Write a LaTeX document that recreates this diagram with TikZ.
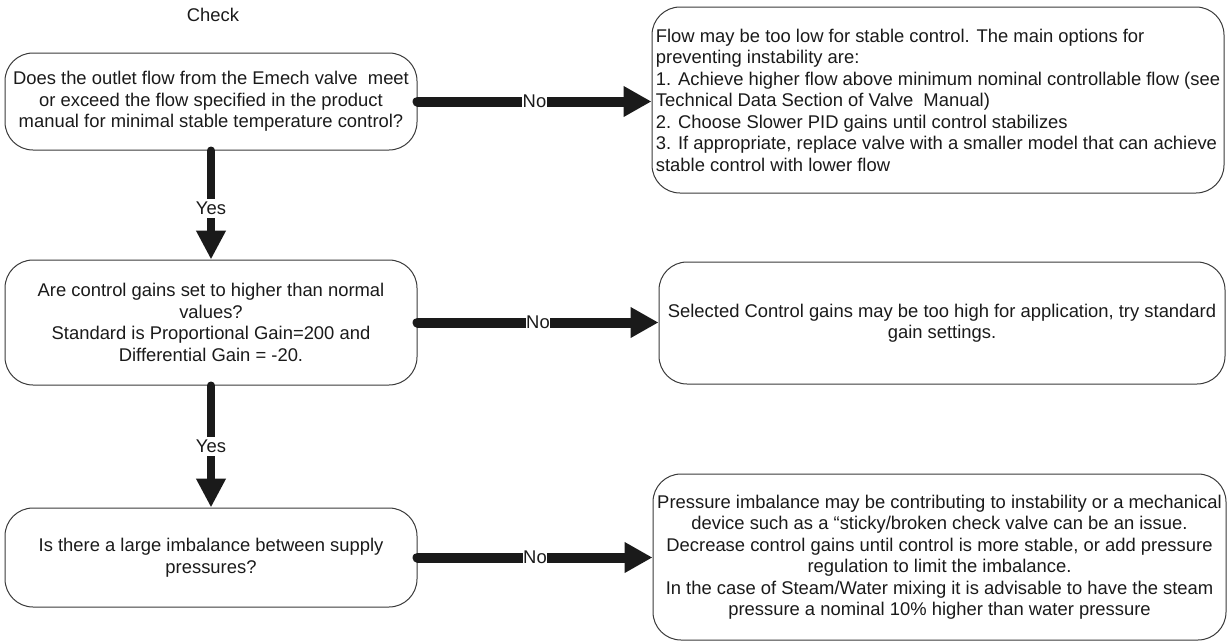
\documentclass[tikz,border=0pt]{standalone}
\usepackage{fontspec}
\setmainfont{Liberation Sans}
\usetikzlibrary{arrows.meta}
\definecolor{boxgray}{HTML}{3A3A3A}
\definecolor{arr}{HTML}{1A1A1A}
\definecolor{txt}{HTML}{1A1A1A}
\newcommand{\diagfont}{\fontsize{18.4}{21.5}\selectfont}
\tikzset{
  box/.style={draw=boxgray, line width=1pt, rounded corners=28pt, inner sep=0pt,
    align=center, font=\diagfont, text=txt},
  harrow/.style={draw=arr, line width=10pt, line cap=round,
    -{Triangle[length=28pt,width=29pt]}},
  varrow/.style={draw=arr, line width=8pt, line cap=round,
    -{Triangle[length=29pt,width=28pt]}},
  lbl/.style={fill=white, inner xsep=0.5pt, inner ysep=3pt,
    font=\diagfont, text=txt},
}
\begin{document}
\begin{tikzpicture}[x=1pt, y=-1pt]
\useasboundingbox (0,0) rectangle (1231,643);

\node[font=\diagfont, text=txt] (chk) at (213,15) {Check};

\node[box, minimum width=412pt, minimum height=97pt] (b1) at (211,101.5)
  {Does the outlet flow from the Emech valve\ \ meet\\
   or exceed the flow specified in the product\\
   manual for minimal stable temperature control?};

\node[box, align=left, minimum width=572pt, minimum height=186pt] (b2) at (938,100)
  {Flow may be too low for stable control. The main options for\\
   preventing instability are:\\
   1. Achieve higher flow above minimum nominal controllable flow (see\\
   Technical Data Section of Valve\ \ Manual)\\
   2. Choose Slower PID gains until control stabilizes\\
   3. If appropriate, replace valve with a smaller model that can achieve\\
   stable control with lower flow};

\node[box, minimum width=412pt, minimum height=125pt] (b3) at (211,322.5)
  {Are control gains set to higher than normal\\
   values?\\
   Standard is Proportional Gain=200 and\\
   Differential Gain = -20.};

\node[box, minimum width=566pt, minimum height=122pt] (b4) at (942,323)
  {Selected Control gains may be too high for application, try standard\\
   gain settings.};

\node[box, minimum width=412pt, minimum height=99pt] (b5) at (211,557.5)
  {Is there a large imbalance between supply\\
   pressures?};

\node[box, minimum width=573pt, minimum height=166pt] (b6) at (939.5,557)
  {Pressure imbalance may be contributing to instability or a mechanical\\
   device such as a “sticky/broken check valve can be an issue.\\
   Decrease control gains until control is more stable, or add pressure\\
   regulation to limit the imbalance.\\
   In the case of Steam/Water mixing it is advisable to have the steam\\
   pressure a nominal 10\% higher than water pressure};

\draw[harrow] (b1.east) -- node[lbl]{No} (b1.east -| b2.west);
\draw[harrow] (b3.east) -- node[lbl]{No} (b3.east -| b4.west);
\draw[harrow] (b5.east) -- node[lbl]{No} (b5.east -| b6.west);

\draw[varrow] (b1.south) -- node[lbl, pos=0.53]{Yes} (b3.north);
\draw[varrow] (b3.south) -- node[lbl]{Yes} (b5.north);
\end{tikzpicture}
\end{document}
